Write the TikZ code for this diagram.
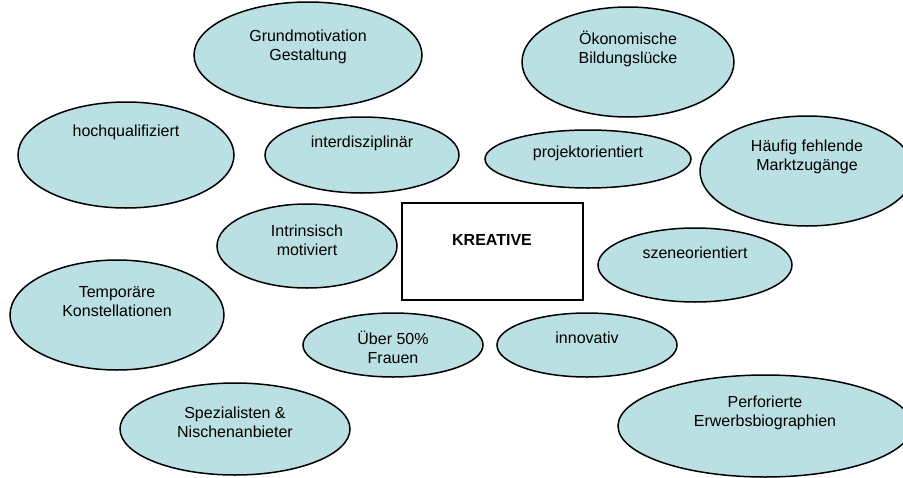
\documentclass[tikz,border=0pt]{standalone}
\usepackage{fontspec}
\setmainfont{Liberation Sans}
\usetikzlibrary{shapes.geometric}
\definecolor{blobfill}{RGB}{187,224,227}
\tikzset{
  blob/.style={ellipse, draw=black, line width=1.5pt, fill=blobfill, inner sep=0pt},
  blobtext/.style={align=center, font=\fontsize{16}{19}\selectfont, inner sep=0pt},
  kernbox/.style={draw=black, line width=1.5pt, fill=white, inner sep=0pt},
}

\begin{document}
\begin{tikzpicture}[x=1pt,y=-1pt]
\useasboundingbox (0,0) rectangle (903,477);
% ellipses: name/x/y/rx/ry/text y/text
\foreach \n/\x/\y/\a/\b/\ty/\t in {
  grund/308/55/114/53/47/{Grundmotivation\\Gestaltung},
  oekon/628/62/106/55/49/{Ökonomische\\Bildungslücke},
  hoch/126/155/108/53/132/{hochqualifiziert},
  inter/362/155/97/38/143/{interdisziplinär},
  projekt/588/159/103/29/153/{projektorientiert},
  haeufig/807/171/107/55/157/{Häufig fehlende\\Marktzugänge},
  intrins/307/246/90/42/240/{Intrinsisch\\motiviert},
  szene/695/265/97/37/253/{szeneorientiert},
  temp/117/315/107/55/301.5/{Temporäre\\Konstellationen},
  ueber/393/345/90/32/347.5/{Über 50\%\\Frauen},
  innov/587/345/90/32/338/{innovativ},
  spez/235/429/115/46/422.5/{Spezialisten \&\\Nischenanbieter},
  perf/765/426/147/51/413/{Perforierte\\Erwerbsbiographien}}
{\node[blob, minimum width=2*\a, minimum height=2*\b] (\n) at (\x,\y) {};
 \node[blobtext] (\n-t) at (\x,\ty) {\t};}
% centre box
\node[kernbox, minimum width=181, minimum height=97] (kreative) at (492.5,251.5) {};
\node[blobtext, font=\fontsize{16}{19}\selectfont\bfseries] (kreative-t) at (492,240) {KREATIVE};
\end{tikzpicture}
\end{document}
